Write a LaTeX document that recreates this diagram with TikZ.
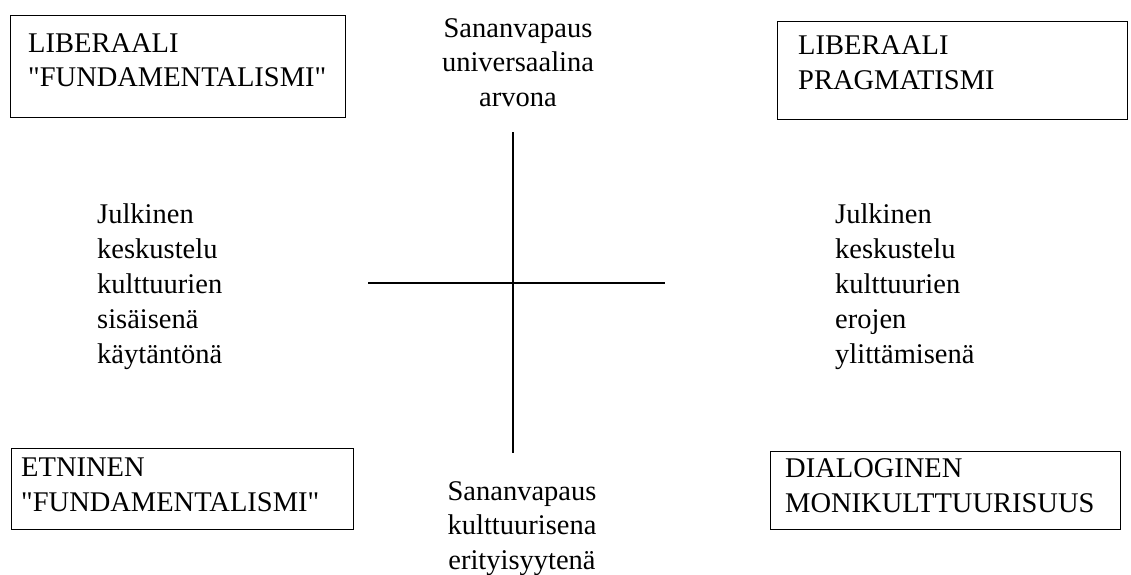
\documentclass[tikz,border=0pt]{standalone}
\usepackage{fontspec}
\setmainfont{Liberation Serif}[Ligatures=TeXOff]
\tikzset{
    quadbox/.style={draw,line width=1.4pt,inner sep=0pt,anchor=north west},
    boxtxt/.style={anchor=north west,inner sep=0pt,align=left},
    axistxt/.style={anchor=north,inner sep=0pt,align=center},
    axisline/.style={line width=1.4pt}
}
\begin{document}
\begin{tikzpicture}[x=1pt,y=-1pt,font=\fontsize{28.5}{34.8}\selectfont]
        %% NOTE: draw diagram
        \useasboundingbox (0,0) rectangle (1131,574);
        %% corner boxes
        \node[quadbox,minimum width=335pt,minimum height=102pt] (lf) at (10,15) {};
        \node[boxtxt] (lftxt) at (28,33) {LIBERAALI\\"FUNDAMENTALISMI"};
        \node[quadbox,minimum width=350pt,minimum height=98pt] (lp) at (777,21) {};
        \node[boxtxt] (lptxt) at (798,35.5) {LIBERAALI\\PRAGMATISMI};
        \node[quadbox,minimum width=342pt,minimum height=81pt] (ef) at (11,448) {};
        \node[boxtxt] (eftxt) at (21,458) {ETNINEN\\"FUNDAMENTALISMI"};
        \node[quadbox,minimum width=350pt,minimum height=78pt] (dm) at (770,451) {};
        \node[boxtxt] (dmtxt) at (785,458.5) {DIALOGINEN\\MONIKULTTUURISUUS};
        %% labels and axis
        \node[axistxt] (uni) at (518,18) {Sananvapaus\\universaalina\\arvona};
        \node[axistxt] (eri) at (522,481) {Sananvapaus\\kulttuurisena\\erityisyytenä};
        \node[boxtxt] (sis) at (97,204) {Julkinen\\keskustelu\\kulttuurien\\sisäisenä\\käytäntönä};
        \node[boxtxt] (ylit) at (835,204) {Julkinen\\keskustelu\\kulttuurien\\erojen\\ylittämisenä};
        \coordinate (axtop) at (513,132);
        \coordinate (axbot) at (513,453);
        \coordinate (axleft) at (368,283);
        \coordinate (axright) at (665,283);
        \draw[axisline] (axtop) -- (axbot);
        \draw[axisline] (axleft) -- (axright);
    \end{tikzpicture}
\end{document}
